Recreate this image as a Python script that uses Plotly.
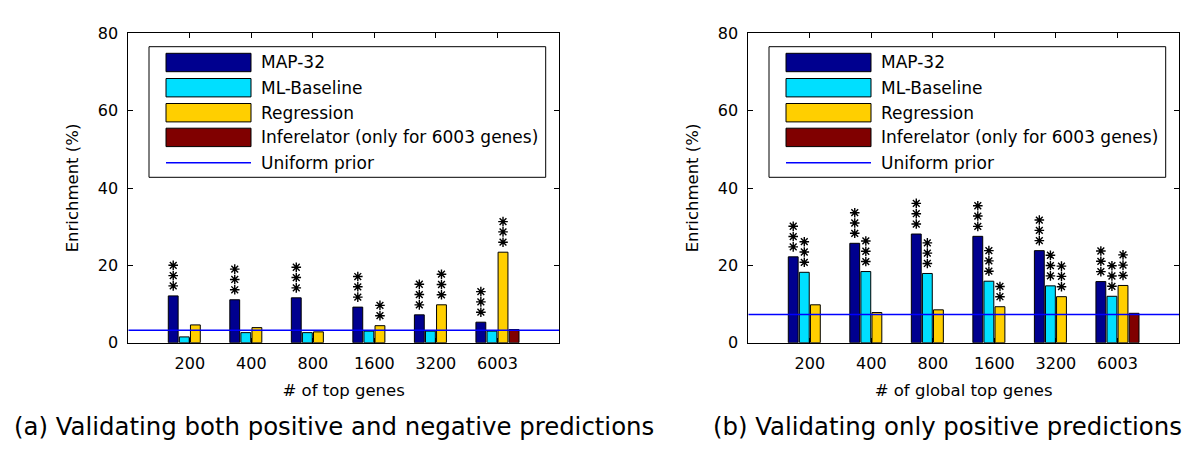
import plotly.graph_objects as go
from plotly.subplots import make_subplots

# ---------------- data ----------------
categories = ["200", "400", "800", "1600", "3200", "6003"]
series_names = ["MAP-32", "ML-Baseline", "Regression", "Inferelator (only for 6003 genes)"]
series_colors = ["#00008F", "#00DFFF", "#FFCF00", "#800000"]

left_map = [12.1, 11.1, 11.6, 9.2, 7.2, 5.3]
left_ml = [1.5, 2.6, 2.6, 3.0, 3.0, 3.0]
left_reg = [4.6, 3.9, 2.8, 4.4, 9.8, 23.4]
left_inf = [None, None, None, None, None, 3.4]
left_uniform = 3.2

right_map = [22.2, 25.7, 28.1, 27.5, 23.8, 15.8]
right_ml = [18.2, 18.4, 17.9, 15.9, 14.7, 12.0]
right_reg = [9.8, 7.8, 8.5, 9.3, 11.9, 14.8]
right_inf = [None, None, None, None, None, 7.6]
right_uniform = 7.3

# significance stars: (series index, category index, number of stars)
left_stars = [(0, 0, 3), (0, 1, 3), (0, 2, 3), (0, 3, 3), (2, 3, 2),
              (0, 4, 3), (2, 4, 3), (0, 5, 3), (2, 5, 3)]
right_stars = [(0, 0, 3), (1, 0, 3), (0, 1, 3), (1, 1, 3), (0, 2, 3), (1, 2, 3),
               (0, 3, 3), (1, 3, 3), (2, 3, 2), (0, 4, 3), (1, 4, 3), (2, 4, 3),
               (0, 5, 3), (1, 5, 3), (2, 5, 3)]

x_titles = ["# of top genes", "# of global top genes"]
captions = ["(a) Validating both positive and negative predictions",
            "(b) Validating only positive predictions"]
y_title = "Enrichment (%)"
legend_line_label = "Uniform prior"

# ---------------- layout constants ----------------
PAGE_W, PAGE_H = 1200, 449
BODY = 8  # default page body margin
W, H = PAGE_W - BODY, PAGE_H - BODY
FONT = "DejaVu Sans"
BARGAP = 0.28
BARGROUPGAP = 0.11
Y_MAX = 80
PLOT_TOP, PLOT_BOTTOM = 33.3, 342.7
positions = list(range(1, len(categories) + 1))
units_per_px = Y_MAX / (PLOT_BOTTOM - PLOT_TOP)

def px(x):
    return (x - BODY) / W

def py(y):
    return 1 - (y - BODY) / H

fig = make_subplots(rows=1, cols=2)

panels = [
    dict(col=1, data=[left_map, left_ml, left_reg, left_inf], uni=left_uniform,
         stars=left_stars, legx=149),
    dict(col=2, data=[right_map, right_ml, right_reg, right_inf], uni=right_uniform,
         stars=right_stars, legx=769),
]

slot = (1 - BARGAP) / len(series_names)
annotations = []
shapes = []

for p in panels:
    for si, (name, vals) in enumerate(zip(series_names, p["data"])):
        fig.add_trace(go.Bar(x=positions, y=vals, name=name, marker_color=series_colors[si],
                             marker_line_color="black", marker_line_width=1,
                             showlegend=False), row=1, col=p["col"])
    # uniform prior line across the axis
    fig.add_trace(go.Scatter(x=[0, len(categories) + 1], y=[p["uni"], p["uni"]], mode="lines",
                             line=dict(color="#0000FF", width=1.5), name=legend_line_label,
                             showlegend=False, hoverinfo="skip"), row=1, col=p["col"])
    # significance stars as asterisk markers stacked above bars
    sx, sy = [], []
    for si, ci, n in p["stars"]:
        xv = positions[ci] + (si - (len(series_names) - 1) / 2) * slot
        yv = p["data"][si][ci]
        for k in range(n):
            sx.append(xv)
            sy.append(yv + (10 + k * 10.3) * units_per_px)
    fig.add_trace(go.Scatter(x=sx, y=sy, mode="markers", showlegend=False, hoverinfo="skip",
                             marker=dict(symbol="asterisk-open", size=8, color="black",
                                         line=dict(color="black", width=1.4))),
                  row=1, col=p["col"])
    # manual legend box
    lx = p["legx"]
    shapes.append(dict(type="rect", xref="paper", yref="paper", x0=px(lx), x1=px(lx + 396.7),
                       y0=py(46.7), y1=py(177.3), line=dict(color="black", width=1),
                       fillcolor="white", layer="above"))
    row_centers = [62.5, 87.7, 112.7, 137.4, 162.7]
    for si in range(len(series_names)):
        cy = row_centers[si]
        shapes.append(dict(type="rect", xref="paper", yref="paper", x0=px(lx + 17), x1=px(lx + 102),
                           y0=py(cy - 9.2), y1=py(cy + 9.2), line=dict(color="black", width=1),
                           fillcolor=series_colors[si], layer="above"))
        annotations.append(dict(x=px(lx + 110), y=py(cy), xref="paper", yref="paper",
                                text=series_names[si], showarrow=False, xanchor="left",
                                yanchor="middle", font=dict(family=FONT, size=17, color="black")))
    cy = row_centers[4]
    shapes.append(dict(type="line", xref="paper", yref="paper", x0=px(lx + 17), x1=px(lx + 102),
                       y0=py(cy), y1=py(cy), line=dict(color="#0000FF", width=1.5), layer="above"))
    annotations.append(dict(x=px(lx + 110), y=py(cy), xref="paper", yref="paper",
                            text=legend_line_label, showarrow=False, xanchor="left",
                            yanchor="middle", font=dict(family=FONT, size=17, color="black")))

# captions
annotations.append(dict(x=px(334), y=py(426), xref="paper", yref="paper", text=captions[0],
                        showarrow=False, xanchor="center", yanchor="middle",
                        font=dict(family=FONT, size=24.4, color="black")))
annotations.append(dict(x=px(947.5), y=py(426), xref="paper", yref="paper", text=captions[1],
                        showarrow=False, xanchor="center", yanchor="middle",
                        font=dict(family=FONT, size=24.4, color="black")))

axis_common = dict(showline=True, linecolor="black", linewidth=1, mirror="ticks",
                   ticks="inside", ticklen=5, tickcolor="black", showgrid=False,
                   zeroline=False, automargin=False,
                   tickfont=dict(family=FONT, size=16, color="black"))

ydom = [py(PLOT_BOTTOM), py(PLOT_TOP)]
xdoms = [[px(128.3), px(559)], [px(748.3), px(1179)]]
for i, ax in enumerate(["xaxis", "xaxis2"]):
    fig.layout[ax].update(domain=xdoms[i], range=[0, len(categories) + 1], tickvals=positions,
                          ticktext=categories, ticklabelstandoff=6,
                          title=dict(text=x_titles[i], standoff=12,
                                     font=dict(family=FONT, size=16.5, color="black")),
                          **axis_common)
for i, ax in enumerate(["yaxis", "yaxis2"]):
    fig.layout[ax].update(domain=ydom, range=[0, Y_MAX], dtick=20, ticklabelstandoff=6,
                          title=dict(text=y_title, standoff=14,
                                     font=dict(family=FONT, size=16.5, color="black")),
                          **axis_common)

fig.update_layout(width=W, height=H, margin=dict(l=0, r=0, t=0, b=0),
                  paper_bgcolor="white", plot_bgcolor="white",
                  barmode="group", bargap=BARGAP, bargroupgap=BARGROUPGAP,
                  annotations=annotations, shapes=shapes,
                  font=dict(family=FONT, color="black"))

fig.write_html("out.html")
